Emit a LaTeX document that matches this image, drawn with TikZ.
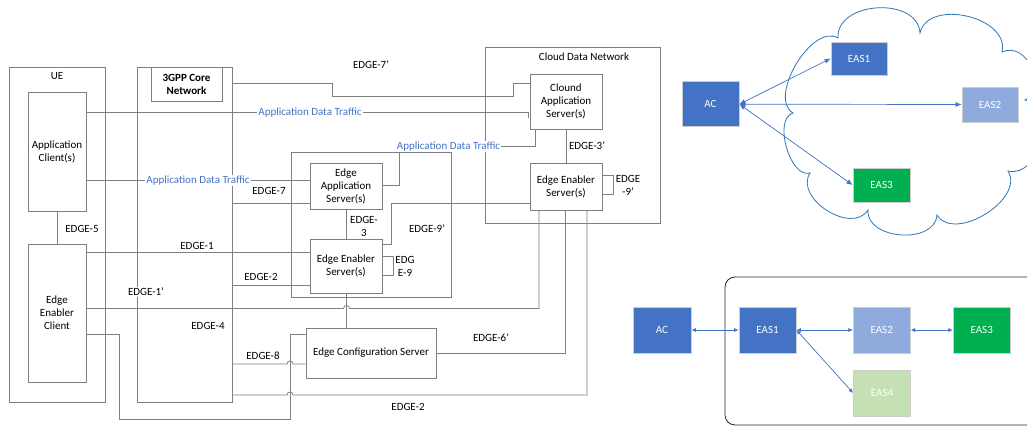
\documentclass[tikz,border=0pt]{standalone}
\usepackage{fontspec}
\setmainfont{Carlito}
\usetikzlibrary{arrows.meta}
\definecolor{lc}{RGB}{127,127,127}
\definecolor{acc}{RGB}{68,114,196}
\definecolor{eastwo}{RGB}{143,170,220}
\definecolor{easthree}{RGB}{0,176,80}
\definecolor{easfour}{RGB}{197,224,180}
\definecolor{cloudc}{RGB}{46,117,182}
\definecolor{boxedge}{RGB}{205,205,205}
\definecolor{grpedge}{RGB}{40,40,40}

\begin{document}
\begin{tikzpicture}[x=1pt,y=-1pt,
  every node/.style={font=\fontsize{11}{13}\selectfont},
  ln/.style={draw=lc,line width=0.8pt},
  frame/.style={draw=lc,line width=0.8pt,inner sep=0pt},
  bx/.style={draw=lc,line width=0.8pt,fill=white,align=center,inner sep=0pt},
  lbl/.style={inner sep=1pt,align=center},
  traffic/.style={inner sep=1pt,text=acc,fill=white},
  easbox/.style={draw=boxedge,line width=0.8pt,text=white,inner sep=0pt},
  link/.style={draw=acc,line width=0.7pt,{Latex[length=6pt,width=5pt]}-{Latex[length=6pt,width=5pt]}},
  slink/.style={draw=acc,line width=0.7pt,{Latex[length=4.5pt,width=4pt]}-{Latex[length=4.5pt,width=4pt]}},
]
\useasboundingbox (0,0) rectangle (1027,428);
\fill[white] (0,0) rectangle (1027,428);
\clip (0,0) rectangle (1027,428);

% ---------- containers ----------
\node[frame,minimum width=96pt,minimum height=335pt] (ue) at (57,234.5) {};
\node[lbl] (uelbl) at (57,76) {UE};
\node[frame,minimum width=95pt,minimum height=335pt] (core) at (184.5,234.5) {};
\node[bx,minimum width=71pt,minimum height=34pt,font=\fontsize{11}{13}\selectfont\bfseries] (corenet) at (186.5,84) {3GPP Core\\Network};
\node[frame,minimum width=175pt,minimum height=176pt] (cdn) at (572.5,135) {};
\node[lbl] (cdnlbl) at (584,57) {Cloud Data Network};
\node[frame,minimum width=160pt,minimum height=145pt] (edn) at (371,224.5) {};

% ---------- functional boxes ----------
\node[bx,minimum width=58pt,minimum height=119pt] (appc) at (57,151.5) {Application\\Client(s)};
\node[bx,minimum width=58pt,minimum height=138pt] (eec) at (57,313) {Edge\\Enabler\\Client};
\node[bx,minimum width=72pt,minimum height=55pt] (cas) at (566,101.5) {Clound\\Application\\Server(s)};
\node[bx,minimum width=72pt,minimum height=47pt] (cees) at (566,186.5) {Edge Enabler\\Server(s)};
\node[bx,minimum width=72pt,minimum height=46pt] (eas) at (346,186) {Edge\\Application\\Server(s)};
\node[bx,minimum width=72pt,minimum height=54pt] (ees) at (346,266) {Edge Enabler\\Server(s)};
\node[bx,minimum width=130pt,minimum height=50pt] (ecs) at (371,353) {Edge Configuration Server};

% ---------- reference points ----------
\draw[ln] (appc.south) -- (eec.north);
\draw[ln] (appc.east |- 0,112.7) -- (528,112.7) -- (528,118);
\draw[ln] (appc.east |- 0,180.7) -- (eas.west |- 0,180.7);
\draw[ln] (eas.east |- 0,185) -- (399,185) -- (399,152.5);
\draw[ln] (core.east |- 0,83) -- (332,83) -- (332,96) -- (513,96) -- (513,83) -- (cas.west |- 0,83);
\draw[ln] (core.east |- 0,203) -- (eas.west |- 0,203);
\draw[ln] (eec.east |- 0,252) -- (ees.west |- 0,252);
\draw[ln] (core.east |- 0,285.5) -- (ees.west |- 0,285.5);
\draw[ln] (eec.east |- 0,308.5) -- (343.5,308.5)
  .. controls (343.5,304.5) and (349.5,304.5) .. (349.5,308.5)
  -- (539,308.5) -- (cees.south -| 539,0);
\draw[ln] (ees.south) -- (ees.south |- ecs.north);
\draw[ln] (eas.south) -- (ees.north);
\draw[ln] (ees.east |- 0,256) -- (393,256) -- (393,275) -- (ees.east |- 0,275);
\draw[ln] (ees.east |- 0,244) -- (391,244) -- (391,203) -- (cees.west |- 0,203);
\draw[ln] (cas.south) -- (cees.north);
\draw[ln] (cees.east |- 0,175) -- (613,175) -- (613,194) -- (cees.east |- 0,194);
\draw[ln] (core.east |- 0,364) -- (287,364)
  .. controls (287,360) and (293,360) .. (293,364) -- (ecs.west |- 0,364);
\draw[ln] (eec.east |- 0,334) -- (119,334) -- (119,419) -- (290,419) -- (290,334) -- (ecs.west |- 0,334);
\draw[ln] (core.east |- 0,395) -- (287,395)
  .. controls (287,391) and (293,391) .. (293,395)
  -- (587,395) -- (cees.south -| 587,0);
\draw[ln] (ecs.east) -- (565,353) -- (cees.south -| 565,0);

% ---------- traffic labels ----------
\node[traffic] (adta) at (310,112.7) {Application Data Traffic};
\node[traffic] (adtb) at (198,180.7) {Application Data Traffic};
\node[traffic] (adtc) at (448.5,146.7) {Application Data Traffic};
\draw[ln] (adtc.east) -- (535,146.7) -- (cas.south -| 535,0);

% ---------- reference point labels ----------
\node[lbl] (l7p) at (371,65) {EDGE-7'};
\node[lbl] (l7) at (269,191) {EDGE-7};
\node[lbl,fill=white] (l1) at (197,246) {EDGE-1};
\node[lbl] (l2) at (261,277) {EDGE-2};
\node[lbl,fill=white] (l1p) at (146,292) {EDGE-1'};
\node[lbl] (l4) at (208,326) {EDGE-4};
\node[lbl] (l5) at (82,229) {EDGE-5};
\node[lbl] (l8) at (263,356) {EDGE-8};
\node[lbl] (l3) at (364,226) {EDGE-\\3};
\node[lbl] (l9) at (405,266) {EDG\\E-9};
\node[lbl] (l9p) at (427,229) {EDGE-9'};
\node[lbl] (l3p) at (587,146) {EDGE-3'};
\node[lbl] (l9pc) at (628,185) {EDGE\\-9'};
\node[lbl] (l6p) at (491,338) {EDGE-6'};
\node[lbl] (l2b) at (408,407) {EDGE-2};

% ---------- cloud deployment ----------
\draw[cloudc,line width=0.8pt] (793,113)
  .. controls (767.3,97.6) and (812.3,22.6) .. (838,38)
  .. controls (835.8,1.1) and (917.8,-3.9) .. (920,33)
  .. controls (928.1,-2.1) and (1010.1,16.9) .. (1002,52)
  .. controls (1026.3,40.4) and (1049.3,88.4) .. (1025,100)
  .. controls (1057,107.6) and (1040,178.6) .. (1008,171)
  .. controls (1025.4,199) and (954.4,243) .. (937,215)
  .. controls (934.8,244.9) and (865.8,239.9) .. (868,210)
  .. controls (851.9,235.3) and (793.9,198.3) .. (810,173)
  .. controls (789.8,178.7) and (772.8,118.7) .. (793,113) -- cycle;

\node[easbox,fill=acc,minimum width=57pt,minimum height=45pt] (ac) at (710.5,104.2) {AC};
\node[easbox,fill=acc,minimum width=56pt,minimum height=33pt] (eas1) at (859,58.5) {EAS1};
\node[easbox,fill=eastwo,minimum width=56pt,minimum height=35pt] (eas2) at (990,104.5) {EAS2};
\node[easbox,fill=easthree,minimum width=57pt,minimum height=34pt] (eas3) at (881.5,185) {EAS3};
\draw[link] (ac.east) -- (eas1.west);
\draw[link] (ac.east) -- (eas2.west);
\draw[link] (ac.east) -- (eas3.west);

% ---------- chained deployment ----------
\node[draw=grpedge,line width=0.8pt,rounded corners=10pt,minimum width=330pt,minimum height=148pt,inner sep=0pt] (grp) at (890,351) {};
\node[easbox,fill=acc,minimum width=58pt,minimum height=46pt] (ac2) at (662,330) {AC};
\node[easbox,fill=acc,minimum width=57pt,minimum height=46pt] (eb1) at (767.5,330) {EAS1};
\node[easbox,fill=eastwo,minimum width=57pt,minimum height=46pt] (eb2) at (881.7,330) {EAS2};
\node[easbox,fill=easthree,minimum width=57pt,minimum height=46pt] (eb3) at (981.7,330) {EAS3};
\node[easbox,fill=easfour,minimum width=57pt,minimum height=46pt] (eb4) at (882,393) {EAS4};
\draw[slink] (ac2.east) -- (eb1.west);
\draw[slink] (eb1.east) -- (eb2.west);
\draw[slink] (eb2.east) -- (eb3.west);
\draw[slink] (eb1.east) -- (eb4.west);
\end{tikzpicture}
\end{document}
